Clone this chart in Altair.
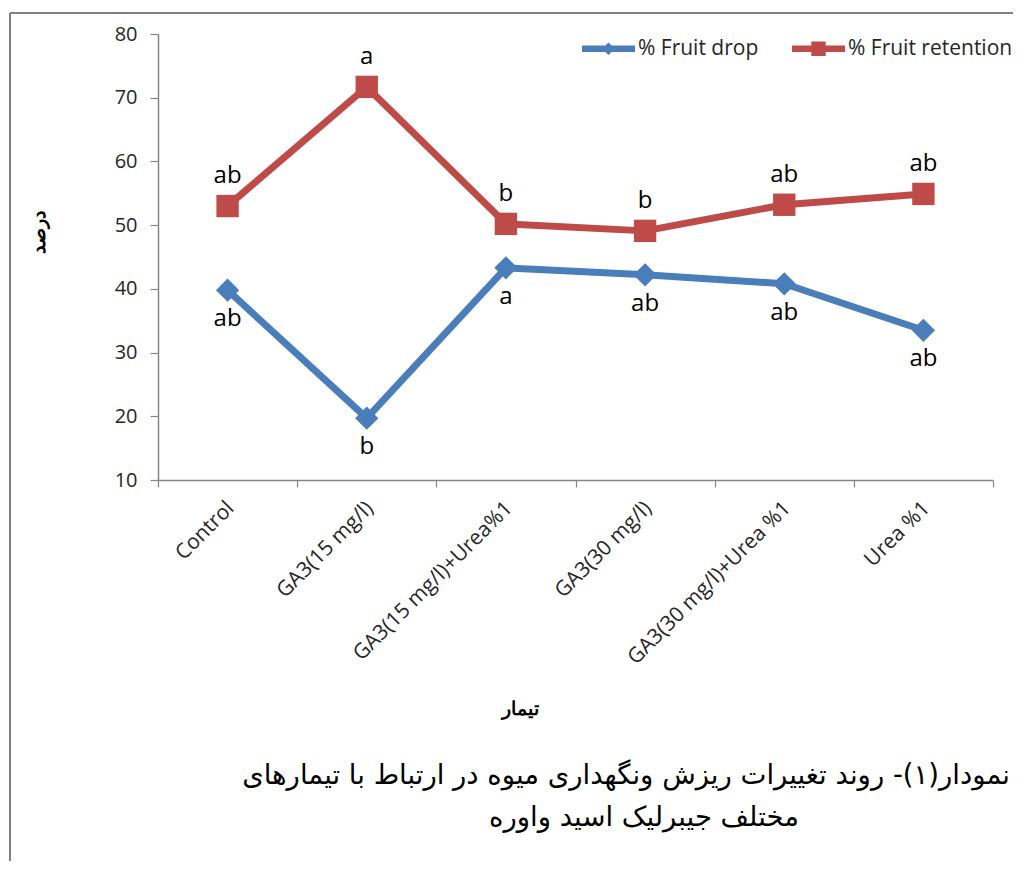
import altair as alt
import pandas as pd

treatments = ["Control", "GA3(15 mg/l)", "GA3(15 mg/l)+Urea%1", "GA3(30 mg/l)",
              "GA3(30 mg/l)+Urea %1", "Urea %1"]
series_names = ["% Fruit drop", "% Fruit retention"]
fruit_drop = [39.8, 19.7, 43.3, 42.2, 40.8, 33.5]
fruit_retention = [53.0, 71.7, 50.2, 49.1, 53.2, 54.9]
drop_letters = ["ab", "b", "a", "ab", "ab", "ab"]
retention_letters = ["ab", "a", "b", "b", "ab", "ab"]
y_ticks = [10, 20, 30, 40, 50, 60, 70, 80]
y_title = "درصد"
x_title = "تیمار"
caption_line1 = "نمودار(۱)- روند تغییرات ریزش ونگهداری میوه در ارتباط با تیمارهای"
caption_line2 = "مختلف جیبرلیک اسید واوره"

rows = []
for t, v, l in zip(treatments, fruit_drop, drop_letters):
    rows.append({"Treatment": t, "Series": series_names[0], "Value": v, "Letter": l})
for t, v, l in zip(treatments, fruit_retention, retention_letters):
    rows.append({"Treatment": t, "Series": series_names[1], "Value": v, "Letter": l})
df = pd.DataFrame(rows)

BLUE = "#4A7EBB"
RED = "#BE4B48"
AXIS_GRAY = "#868686"
TXT = "#262626"
FONT = "Open Sans"

path_d = ("M-1,-0.12L1,-0.12L1,0.12L-1,0.12Z"
          "M0,-0.24L0.24,0L0,0.24L-0.24,0Z")
path_s = ("M-1,-0.12L1,-0.12L1,0.12L-1,0.12Z"
          "M-0.27,-0.27L0.27,-0.27L0.27,0.27L-0.27,0.27Z")

x_enc = alt.X(
    "Treatment:N",
    sort=treatments,
    bandPosition=0.5,
    scale=alt.Scale(type="band", paddingInner=0, paddingOuter=0),
    axis=alt.Axis(
        title=x_title, titleFont="Liberation Sans", titleFontSize=19,
        titleFontWeight="bold", titleColor="#000", titleX=362, titleY=228,
        titleBaseline="middle", titleAlign="center",
        labelAngle=-45, labelFont=FONT, labelFontSize=21, labelColor=TXT,
        labelPadding=10, labelOffset=-5, tickBand="extent", tickSize=7,
        tickColor=AXIS_GRAY, domainColor=AXIS_GRAY, domainWidth=1.5,
        tickWidth=1.2, grid=False, labelLimit=400,
    ),
)
y_enc = alt.Y(
    "Value:Q",
    scale=alt.Scale(domain=[10, 80], nice=False, zero=False),
    axis=alt.Axis(
        values=y_ticks, title=y_title, titleFont="Liberation Sans",
        titleFontSize=19, titleFontWeight="bold", titleColor="#000",
        titleX=-120, titleY=198, titleAngle=270, titleBaseline="middle",
        titleAlign="center",
        labelFont=FONT, labelFontSize=20, labelColor=TXT, labelPadding=13,
        tickSize=8, tickColor=AXIS_GRAY, domainColor=AXIS_GRAY,
        domainWidth=1.5, tickWidth=1.2, grid=False,
    ),
)
x_plain = alt.X("Treatment:N", sort=treatments, bandPosition=0.5)

base = alt.Chart(df)


def series_layers(name, color, shape, size, dy):
    sub = base.transform_filter(alt.datum.Series == name)
    ln = sub.mark_line(strokeWidth=7, strokeCap="round", strokeJoin="round", color=color).encode(
        x=x_enc, y=y_enc)
    pt = sub.mark_point(filled=True, opacity=1, shape=shape, size=size, color=color).encode(
        x=x_plain, y="Value:Q")
    tx = sub.mark_text(dy=dy, baseline="alphabetic", fontSize=24, font=FONT, color="#000").encode(
        x=x_plain, y="Value:Q", text="Letter:N")
    return ln, pt, tx


ln_d, pt_d, tx_d = series_layers(series_names[0], BLUE, "diamond", 540, 36)
ln_r, pt_r, tx_r = series_layers(series_names[1], RED, "square", 500, -23)

legend_layer = base.transform_filter("false").mark_point(filled=True, opacity=1, size=2809).encode(
    x=x_plain, y="Value:Q",
    color=alt.Color(
        "Series:N", scale=alt.Scale(domain=series_names, range=[BLUE, RED]),
        legend=alt.Legend(
            title=None, orient="none", legendX=424, legendY=-12,
            direction="horizontal", symbolSize=2809, symbolStrokeWidth=0,
            labelFont=FONT, labelFontSize=21, labelColor=TXT, labelOffset=3,
            columnPadding=33, labelLimit=400,
        ),
    ),
    shape=alt.Shape("Series:N", scale=alt.Scale(domain=series_names, range=[path_d, path_s])),
)

one = pd.DataFrame({"k": [0]})
border_top = alt.Chart(one).mark_rule(color="#808080", strokeWidth=2).encode(
    x=alt.value(-148), x2=alt.value(857), y=alt.value(-21)
)
border_left = alt.Chart(one).mark_rule(color="#808080", strokeWidth=2).encode(
    x=alt.value(-148), y=alt.value(-21), y2=alt.value(835)
)
cap1 = alt.Chart(one).mark_text(
    text=caption_line1, font="DejaVu Sans", fontSize=27.5, color="#000",
    align="right", baseline="middle",
).encode(x=alt.value(852), y=alt.value(742))
cap2 = alt.Chart(one).mark_text(
    text=caption_line2, font="DejaVu Sans", fontSize=27.5, color="#000",
    align="center", baseline="middle",
).encode(x=alt.value(486), y=alt.value(784))

chart = alt.layer(
    border_top, border_left, ln_d, ln_r, pt_d, pt_r, tx_r, tx_d, legend_layer, cap1, cap2
).properties(
    width=835, height=446,
    autosize=alt.AutoSizeParams(type="none"),
    padding={"left": 150, "top": 26, "right": 20, "bottom": 381},
    background="white",
).configure_view(stroke=None)

chart.save("out.html", embed_options={"renderer": "svg", "actions": False})
